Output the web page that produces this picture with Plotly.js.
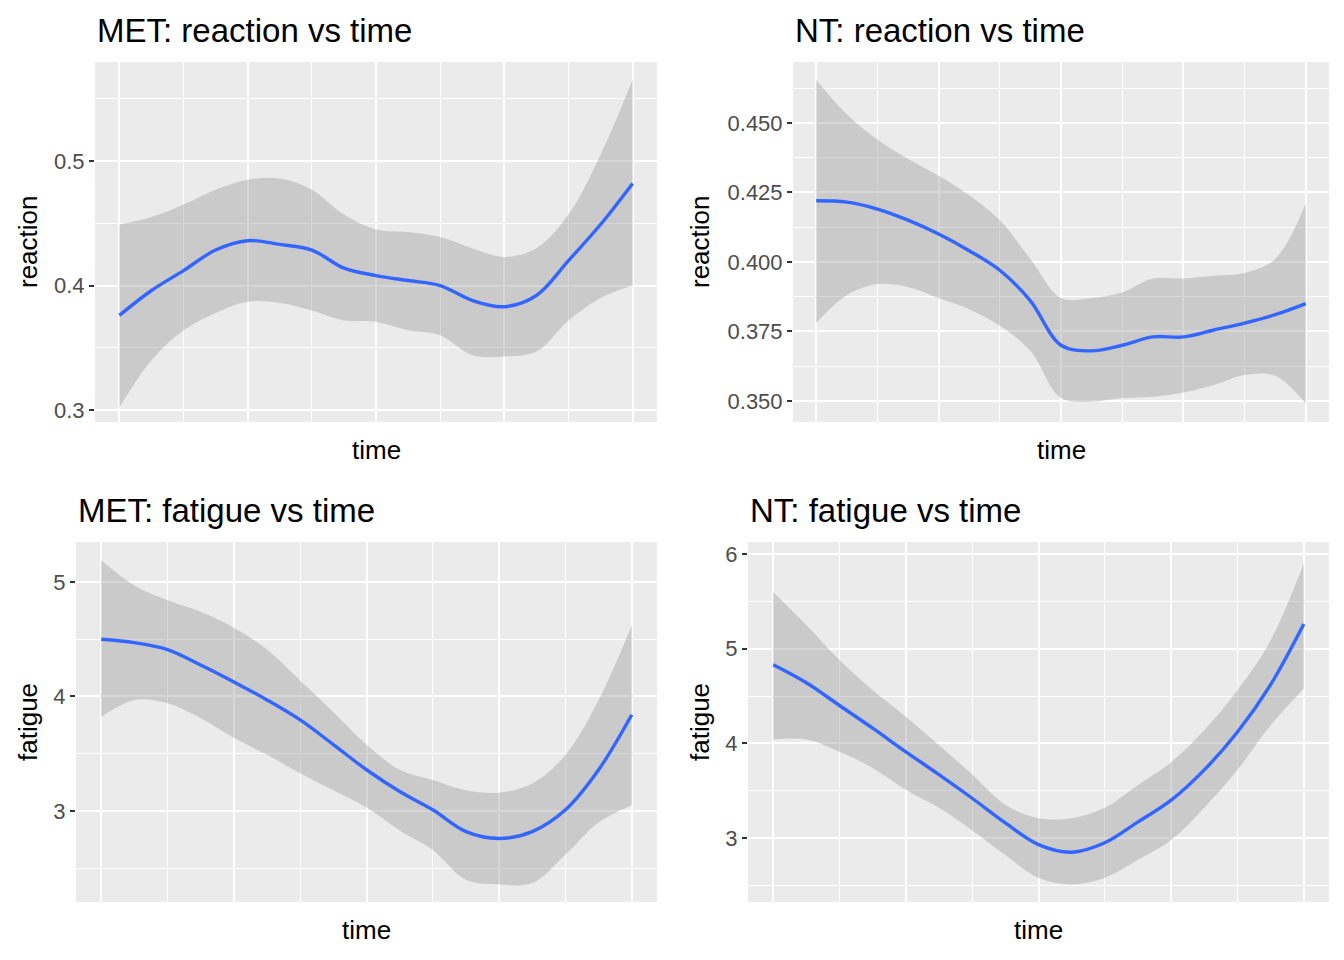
<!DOCTYPE html>
<html>
<head>
<meta charset="utf-8">
<script src="https://cdn.plot.ly/plotly-3.0.1.min.js"></script>
<style>body{margin:0;background:#fff}</style>
</head>
<body>
<div id="chart" style="width:1344px;height:960px"></div>
<script>
let time = [0, 0.5, 1, 1.5, 2, 2.5, 3, 3.5, 4, 4.5, 5, 5.5, 6, 6.5, 7, 7.5, 8];

let metReaction = [0.376, 0.396, 0.412, 0.4285, 0.436, 0.433, 0.4285, 0.414, 0.408, 0.404, 0.400, 0.388, 0.383, 0.392, 0.420, 0.449, 0.482];
let metReactionHi = [0.449, 0.455, 0.465, 0.477, 0.485, 0.486, 0.477, 0.457, 0.445, 0.443, 0.439, 0.430, 0.423, 0.430, 0.457, 0.505, 0.565];
let metReactionLo = [0.302, 0.340, 0.364, 0.378, 0.387, 0.386, 0.380, 0.372, 0.371, 0.364, 0.360, 0.344, 0.343, 0.347, 0.372, 0.390, 0.400];

let ntReaction = [0.422, 0.4215, 0.419, 0.415, 0.410, 0.404, 0.397, 0.386, 0.370, 0.368, 0.370, 0.373, 0.373, 0.3755, 0.378, 0.381, 0.385];
let ntReactionHi = [0.4655, 0.453, 0.444, 0.437, 0.431, 0.424, 0.415, 0.401, 0.387, 0.387, 0.389, 0.394, 0.394, 0.395, 0.396, 0.401, 0.421];
let ntReactionLo = [0.378, 0.388, 0.392, 0.391, 0.387, 0.383, 0.377, 0.368, 0.351, 0.3497, 0.351, 0.3515, 0.353, 0.3557, 0.3593, 0.359, 0.349];

let metFatigue = [4.50, 4.47, 4.41, 4.275, 4.127, 3.97, 3.795, 3.58, 3.36, 3.17, 3.01, 2.82, 2.76, 2.82, 3.01, 3.36, 3.84];
let metFatigueHi = [5.19, 4.97, 4.84, 4.74, 4.60, 4.41, 4.14, 3.865, 3.58, 3.36, 3.27, 3.18, 3.16, 3.24, 3.49, 3.97, 4.62];
let metFatigueLo = [3.82, 3.97, 3.94, 3.81, 3.64, 3.49, 3.33, 3.18, 3.03, 2.83, 2.66, 2.40, 2.36, 2.37, 2.62, 2.90, 3.05];

let ntFatigue = [4.83, 4.64, 4.40, 4.16, 3.91, 3.67, 3.42, 3.16, 2.93, 2.85, 2.95, 3.17, 3.40, 3.72, 4.12, 4.62, 5.26];
let ntFatigueHi = [5.60, 5.25, 4.88, 4.56, 4.28, 3.98, 3.67, 3.35, 3.21, 3.21, 3.32, 3.56, 3.80, 4.14, 4.56, 5.09, 5.90];
let ntFatigueLo = [4.04, 4.04, 3.91, 3.74, 3.51, 3.32, 3.08, 2.82, 2.58, 2.51, 2.58, 2.77, 2.98, 3.32, 3.72, 4.19, 4.58];

let W = 1344, H = 960;
let panels = [
  {title: 'MET: reaction vs time', ylab: 'reaction', y: metReaction, hi: metReactionHi, lo: metReactionLo,
   box: [95, 657, 62, 422], yr: [0.2904, 0.5795], dt: 0.1, fmt: '.1f', tx: 95, ylx: 28},
  {title: 'NT: reaction vs time', ylab: 'reaction', y: ntReaction, hi: ntReactionHi, lo: ntReactionLo,
   box: [793, 1329, 62, 422], yr: [0.3424, 0.4719], dt: 0.025, fmt: '.3f', tx: 793, ylx: 700},
  {title: 'MET: fatigue vs time', ylab: 'fatigue', y: metFatigue, hi: metFatigueHi, lo: metFatigueLo,
   box: [76, 657, 542, 902], yr: [2.205, 5.349], dt: 1, fmt: 'd', tx: 76, ylx: 28},
  {title: 'NT: fatigue vs time', ylab: 'fatigue', y: ntFatigue, hi: ntFatigueHi, lo: ntFatigueLo,
   box: [748, 1329, 542, 902], yr: [2.324, 6.127], dt: 1, fmt: 'd', tx: 748, ylx: 700}
];

let data = [];
let layout = {
  width: W, height: H, margin: {l: 0, r: 0, t: 0, b: 0},
  paper_bgcolor: '#fff', showlegend: false,
  font: {family: 'Liberation Sans, Arial, sans-serif', color: '#000'},
  annotations: [], shapes: []
};

panels.forEach((p, i) => {
  let n = i === 0 ? '' : String(i + 1);
  let xa = 'x' + n, ya = 'y' + n;
  data.push({x: time, y: p.lo, xaxis: xa, yaxis: ya, mode: 'lines', line: {width: 0, shape: 'spline'}, hoverinfo: 'skip', type: 'scatter'});
  data.push({x: time, y: p.hi, xaxis: xa, yaxis: ya, mode: 'lines', line: {width: 0, shape: 'spline'}, fill: 'tonexty',
    fillcolor: 'rgba(153,153,153,0.4)', type: 'scatter'});
  data.push({x: time, y: p.y, xaxis: xa, yaxis: ya, mode: 'lines', line: {color: '#3366FF', width: 3.4, shape: 'spline'}, type: 'scatter'});

  let [x0, x1, y0, y1] = p.box;
  layout['xaxis' + n] = {
    domain: [x0 / W, x1 / W], anchor: ya, range: [-0.38, 8.38],
    dtick: 2, tick0: 0, showticklabels: false, ticks: '', zeroline: false,
    gridcolor: '#fff', gridwidth: 2,
    minor: {dtick: 1, tick0: 0, showgrid: true, gridcolor: '#fff', gridwidth: 1}
  };
  layout['yaxis' + n] = {
    domain: [1 - y1 / H, 1 - y0 / H], anchor: xa, range: p.yr,
    dtick: p.dt, tick0: 0, tickformat: p.fmt, zeroline: false,
    ticks: 'outside', ticklen: 5, tickwidth: 1.5, tickcolor: '#333',
    tickfont: {size: 22, color: '#4d4d4d'},
    gridcolor: '#fff', gridwidth: 2,
    minor: {dtick: p.dt / 2, tick0: 0, showgrid: true, gridcolor: '#fff', gridwidth: 1}
  };
  layout.shapes.push({type: 'rect', xref: 'paper', yref: 'paper', layer: 'below',
    x0: x0 / W, x1: x1 / W, y0: 1 - y1 / H, y1: 1 - y0 / H, fillcolor: '#ebebeb', line: {width: 0}});

  let ty = i < 2 ? 30 : 510;
  layout.annotations.push({text: p.title, xref: 'paper', yref: 'paper', x: p.tx / W, y: 1 - ty / H,
    xanchor: 'left', yanchor: 'middle', showarrow: false, font: {size: 33}});
  layout.annotations.push({text: 'time', xref: 'paper', yref: 'paper', x: (x0 + x1) / 2 / W, y: 1 - (y1 + 28) / H,
    xanchor: 'center', yanchor: 'middle', showarrow: false, font: {size: 26}});
  layout.annotations.push({text: p.ylab, xref: 'paper', yref: 'paper', x: p.ylx / W, y: 1 - (y0 + y1) / 2 / H,
    xanchor: 'center', yanchor: 'middle', textangle: -90, showarrow: false, font: {size: 26}});
});

Plotly.newPlot('chart', data, layout, {displayModeBar: false});
</script>
</body>
</html>
